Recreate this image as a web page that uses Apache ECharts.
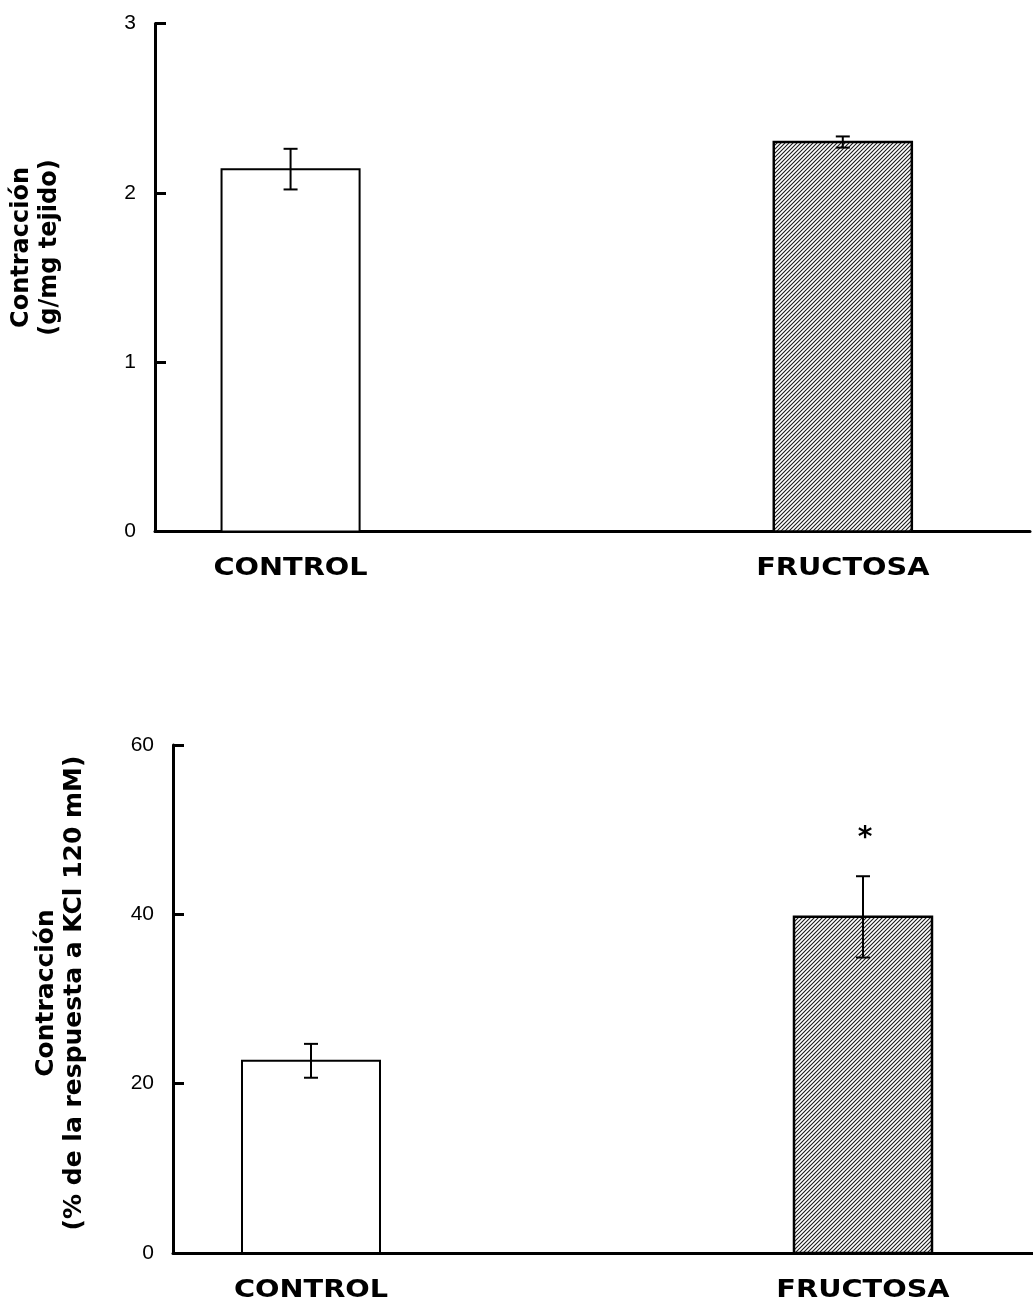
<!DOCTYPE html>
<html>
<head>
<meta charset="utf-8">
<script src="https://cdn.jsdelivr.net/npm/echarts@6/dist/echarts.min.js"></script>
<style>
  html, body { margin: 0; padding: 0; background: #fff; }
  #chart { width: 1033px; height: 1303px; }
</style>
</head>
<body>
<div id="chart"></div>
<script>
// ---- data ----
const categories = ['CONTROL', 'FRUCTOSA'];
const topMeans = [2.14, 2.30];
const topErrors = [0.12, 0.033];
const bottomMeans = [22.7, 39.7];
const bottomErrors = [2.0, 4.8];
const bottomMarks = ['', '*'];
const topTicks = [0, 1, 2, 3];
const bottomTicks = [0, 20, 40, 60];
const topTitle = 'Contracción\n(g/mg tejido)';
const bottomTitle = 'Contracción\n(% de la respuesta a KCl 120 mM)';

// hatch pattern
const pc = document.createElement('canvas');
pc.width = 4; pc.height = 4;
const pg = pc.getContext('2d');
pg.fillStyle = '#fff'; pg.fillRect(0, 0, 4, 4);
pg.strokeStyle = '#1a1a1a'; pg.lineWidth = 1.1;
pg.beginPath();
pg.moveTo(-1, 5); pg.lineTo(5, -1);
pg.moveTo(-3, 3); pg.lineTo(3, -3);
pg.moveTo(1, 7); pg.lineTo(7, 1);
pg.stroke();
const hatch = { image: pc, repeat: 'repeat' };

function makeData(means, errs) {
  return categories.map((c, i) => [i, means[i], errs[i]]);
}

function renderBar(params, api) {
  const i = api.value(0), m = api.value(1), e = api.value(2);
  const name = categories[i];
  const mark = params.seriesIndex === 1 ? bottomMarks[i] : '';
  const base = api.coord([i, 0]);
  const top = api.coord([i, m]);
  const hw = api.size([0.125, 0])[0];
  const eTop = api.coord([i, m + e]);
  const eBot = api.coord([i, m - e]);
  const cap = 7;
  const children = [
    {
      type: 'rect',
      shape: { x: base[0] - hw, y: top[1], width: hw * 2, height: base[1] - top[1] },
      style: { fill: i === 0 ? '#fff' : hatch, stroke: '#000', lineWidth: i === 0 ? 2 : 2.5 }
    },
    { type: 'line', shape: { x1: base[0], y1: eTop[1], x2: base[0], y2: eBot[1] }, style: { stroke: '#000', lineWidth: 2 } },
    { type: 'line', shape: { x1: base[0] - cap, y1: eTop[1], x2: base[0] + cap, y2: eTop[1] }, style: { stroke: '#000', lineWidth: 2 } },
    { type: 'line', shape: { x1: base[0] - cap, y1: eBot[1], x2: base[0] + cap, y2: eBot[1] }, style: { stroke: '#000', lineWidth: 2 } },
    {
      type: 'text', x: base[0], y: base[1] + 37, scaleX: 1.15,
      style: { text: name, fontFamily: 'DejaVu Sans', fontWeight: 'bold', fontSize: 25, fill: '#000', align: 'center', verticalAlign: 'middle' }
    }
  ];
  if (mark) {
    children.push({
      type: 'text', x: base[0] + 2, y: eTop[1] - 38,
      style: { text: mark, fontFamily: 'DejaVu Sans', fontWeight: 'bold', fontSize: 28, fill: '#000', align: 'center', verticalAlign: 'middle' }
    });
  }
  return { type: 'group', children };
}

const axisLineStyle = { color: '#000', width: 3 };

function yAxisCfg(gridIndex, ticks, title, gap, fontSize, namePad) {
  return {
    type: 'value', gridIndex,
    min: ticks[0], max: ticks[ticks.length - 1], interval: ticks[1] - ticks[0],
    axisLine: { show: true, onZero: false, lineStyle: axisLineStyle },
    axisTick: { show: true, inside: true, length: 11, lineStyle: { color: '#000', width: 3 } },
    axisLabel: { color: '#000', fontFamily: 'Liberation Sans', fontSize: 21, margin: 19, padding: [10, 0, 0, 0] },
    splitLine: { show: false },
    name: title, nameLocation: 'middle', nameRotate: 90, nameGap: gap,
    nameTextStyle: { color: '#000', fontFamily: 'DejaVu Sans', fontWeight: 'bold', fontSize, lineHeight: 28, padding: namePad }
  };
}

function xAxisCfg(gridIndex, min, max) {
  return {
    type: 'value', gridIndex, min, max,
    axisLine: { show: true, onZero: false, lineStyle: axisLineStyle },
    axisTick: { show: false }, axisLabel: { show: false }, splitLine: { show: false }
  };
}

const chart = echarts.init(document.getElementById('chart'), null, { renderer: 'canvas' });
chart.setOption({
  backgroundColor: '#fff',
  animation: false,
  grid: [
    { left: 152, top: 23.5, width: 878, height: 508 },
    { left: 173, top: 745, width: 860, height: 508 }
  ],
  xAxis: [xAxisCfg(0, -0.2455, 1.339), xAxisCfg(1, -0.25, 1.308)],
  yAxis: [
    yAxisCfg(0, topTicks, topTitle, 91, 24, [0, 0, 0, 60]),
    yAxisCfg(1, bottomTicks, bottomTitle, 85, 25, [0, 0, 0, 12])
  ],
  series: [
    { type: 'custom', xAxisIndex: 0, yAxisIndex: 0, clip: false, renderItem: renderBar, data: makeData(topMeans, topErrors) },
    { type: 'custom', xAxisIndex: 1, yAxisIndex: 1, clip: false, renderItem: renderBar, data: makeData(bottomMeans, bottomErrors) }
  ]
});
</script>
</body>
</html>
